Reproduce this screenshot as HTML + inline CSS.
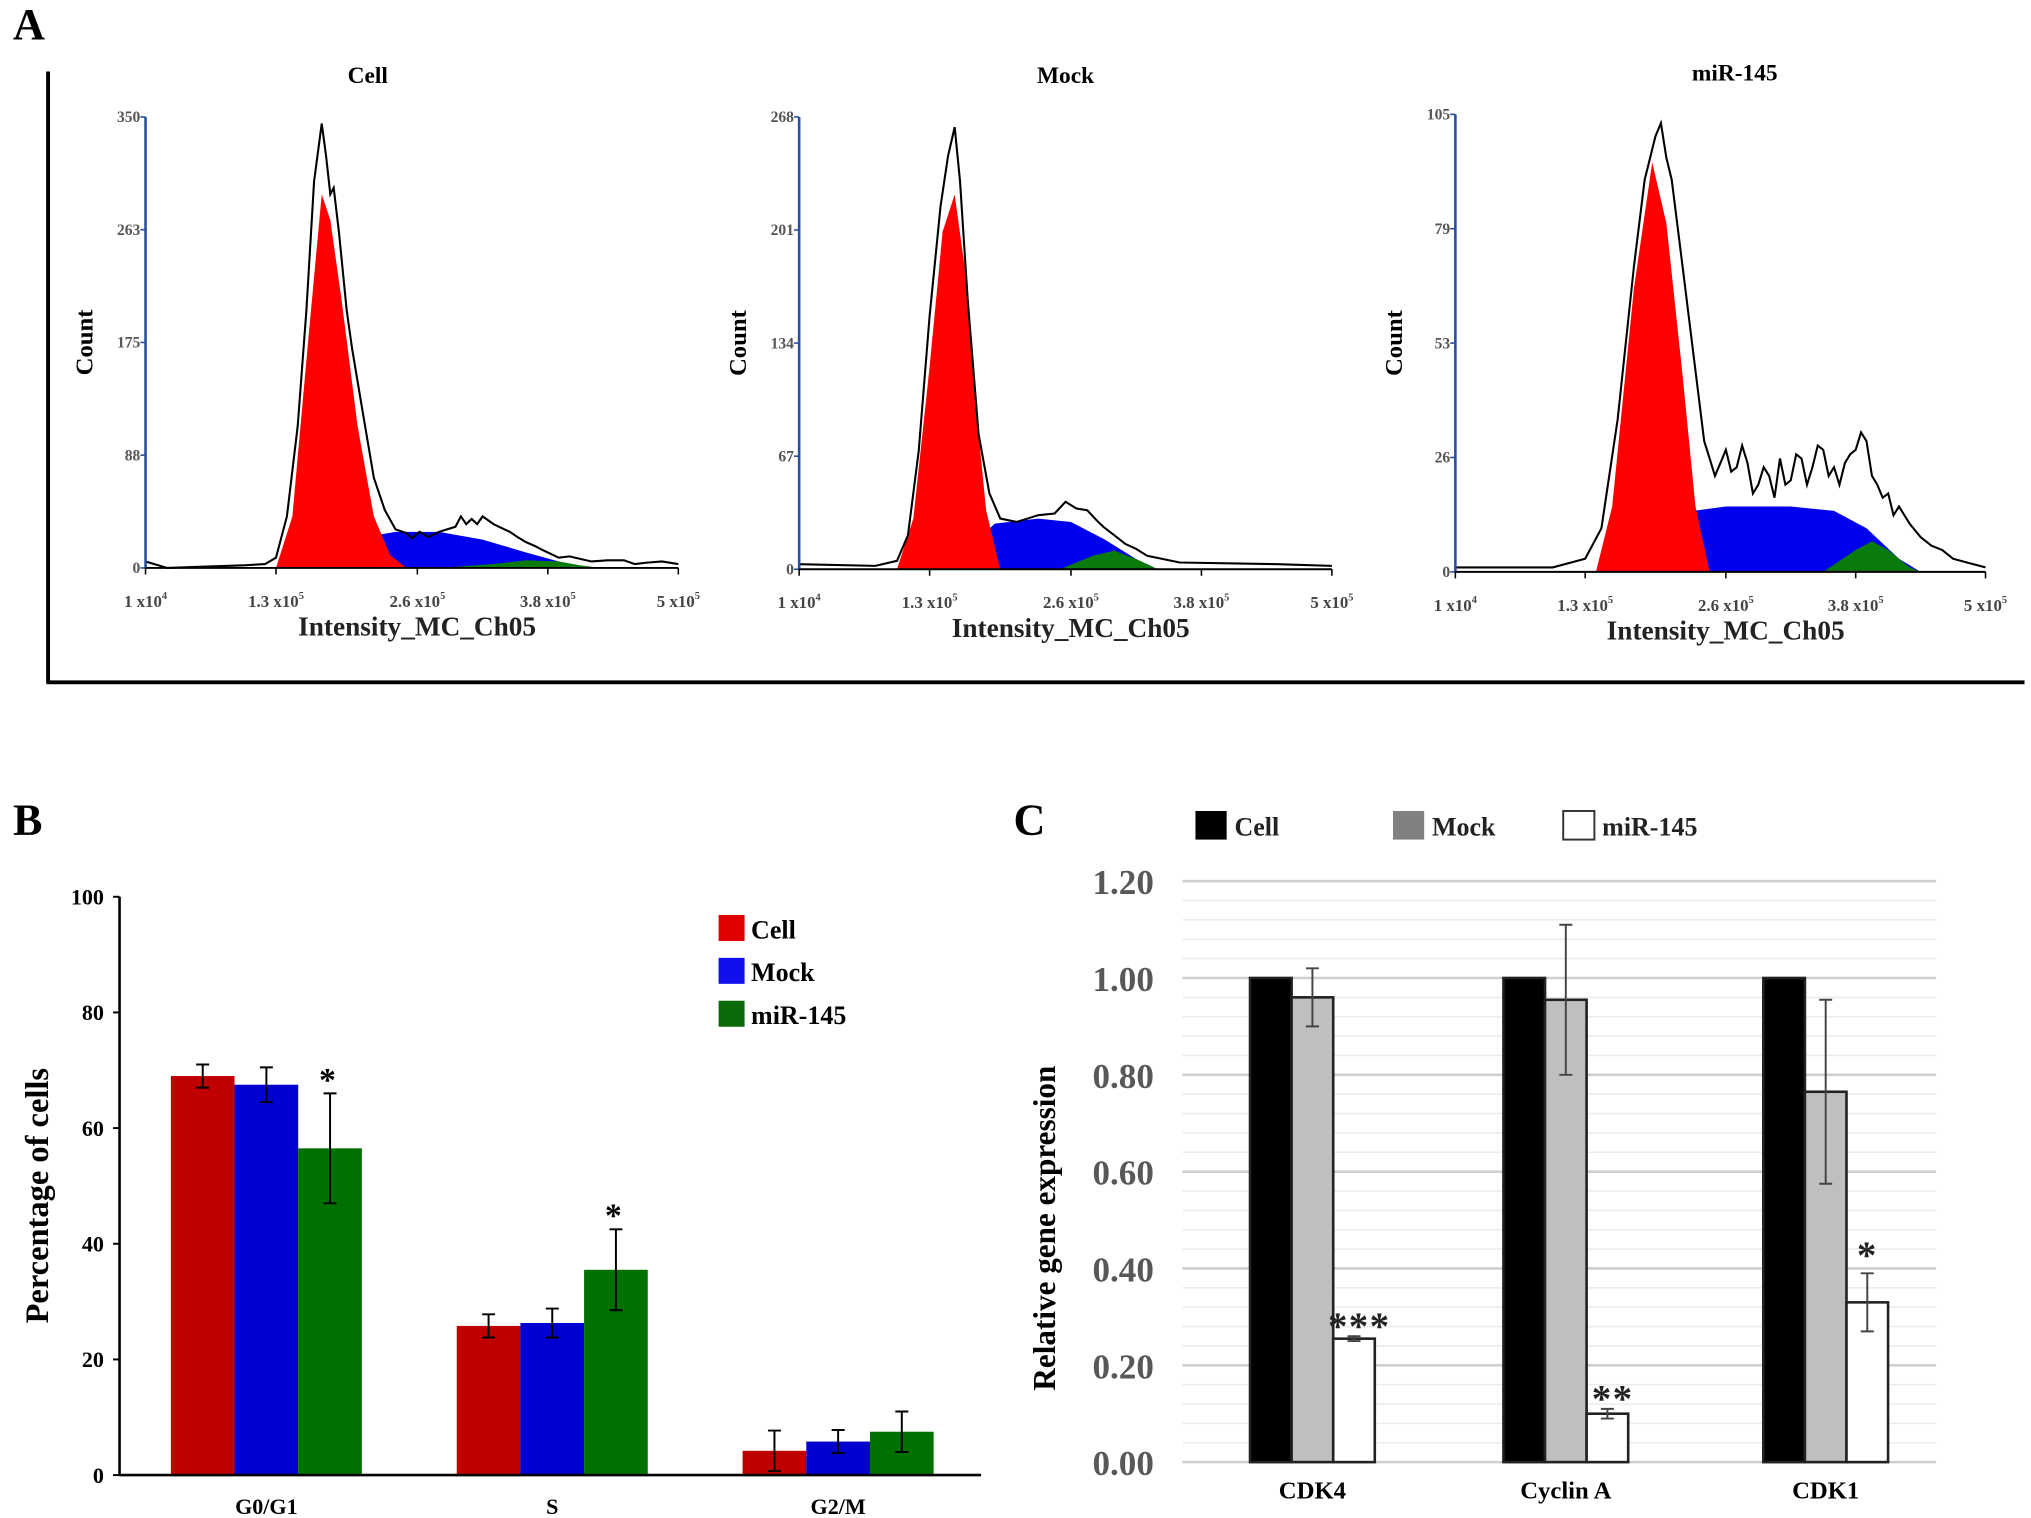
<!DOCTYPE html>
<html><head><meta charset="utf-8"><style>
html,body{margin:0;padding:0;background:#fff;}
svg{display:block;}
text{font-family:"Liberation Serif",serif;font-weight:bold;}
</style></head><body>
<svg id="fig" width="2031" height="1518" viewBox="0 0 1563 1168" preserveAspectRatio="none" xmlns="http://www.w3.org/2000/svg">
<rect width="1563" height="1168" fill="#fff"/>
<text x="10" y="30" font-size="34">A</text>
<line x1="37" y1="55" x2="37" y2="526" stroke="#000" stroke-width="3"/>
<line x1="36" y1="525" x2="1558" y2="525" stroke="#000" stroke-width="3"/>
<g id="hists"></g>
<text x="10" y="642" font-size="34">B</text>
<g id="chartB"></g>
<text x="780" y="642" font-size="34">C</text>
<g id="chartC"></g>
</svg>
<script>
// ---------- Panel A data (x in units of 1e5) ----------
const cellOutline=[[0.1,5],[0.3,0],[1.0,2],[1.2,3],[1.3,8],[1.4,40],[1.5,110],[1.58,200],[1.65,300],[1.72,345],[1.76,320],[1.8,290],[1.83,295],[1.88,260],[1.95,200],[2.0,170],[2.1,120],[2.2,70],[2.3,45],[2.4,30],[2.5,27],[2.55,23],[2.62,28],[2.7,24],[2.8,28],[2.95,32],[3.0,40],[3.05,34],[3.1,38],[3.15,34],[3.2,40],[3.3,34],[3.4,30],[3.45,28],[3.52,24],[3.6,20],[3.68,17],[3.75,14],[3.85,10],[3.9,8],[4.0,9],[4.2,5],[4.35,6],[4.5,6],[4.6,3],[4.7,4],[4.85,5],[5.0,3]];
const cellRed=[[1.3,0],[1.45,40],[1.6,180],[1.72,290],[1.8,270],[1.9,210],[2.05,110],[2.2,40],[2.35,10],[2.5,0]];
const cellBlue=[[1.6,0],[1.9,10],[2.2,25],[2.4,28],[2.8,28],[3.2,22],[3.6,12],[3.9,5],[4.2,0]];
const cellGreen=[[2.8,0],[3.3,3],[3.6,6],[3.9,5],[4.1,2],[4.3,0]];
const mockOutline=[[0.1,3],[0.8,2],[1.0,5],[1.1,20],[1.2,70],[1.3,150],[1.4,215],[1.47,245],[1.53,262],[1.58,230],[1.65,160],[1.75,80],[1.85,45],[1.95,30],[2.1,28],[2.2,30],[2.3,32],[2.45,33],[2.55,40],[2.65,36],[2.75,35],[2.85,28],[2.9,25],[3.0,20],[3.1,15],[3.2,12],[3.3,8],[3.6,4],[4.5,3],[5.0,2]];
const mockRed=[[1.0,0],[1.15,30],[1.3,120],[1.42,200],[1.53,222],[1.62,180],[1.72,100],[1.82,35],[1.95,0]];
const mockBlue=[[1.45,0],[1.7,15],[1.9,27],[2.3,30],[2.6,28],[2.9,18],[3.2,6],[3.4,0]];
const mockGreen=[[2.5,0],[2.8,8],[3.0,11],[3.2,6],[3.4,0]];
const mirOutline=[[0.1,1],[1.0,1],[1.3,3],[1.45,10],[1.6,35],[1.75,70],[1.85,90],[1.95,100],[2.0,103],[2.05,95],[2.1,90],[2.2,70],[2.3,50],[2.4,30],[2.45,26],[2.5,22],[2.55,25],[2.6,28],[2.65,23],[2.7,24],[2.75,29],[2.8,25],[2.85,18],[2.9,20],[2.95,24],[3.0,22],[3.05,17],[3.1,26],[3.15,20],[3.2,21],[3.25,27],[3.3,26],[3.35,20],[3.4,24],[3.45,29],[3.5,28],[3.55,22],[3.6,24],[3.65,20],[3.7,25],[3.75,27],[3.8,28],[3.85,32],[3.9,30],[3.95,22],[4.0,20],[4.05,17],[4.1,18],[4.15,13],[4.2,15],[4.3,11],[4.4,8],[4.5,6],[4.6,5],[4.7,3],[4.85,2],[5.0,1]];
const mirRed=[[1.4,0],[1.55,15],[1.75,65],[1.92,94],[2.05,80],[2.2,45],[2.32,15],[2.45,0]];
const mirBlue=[[1.7,0],[2.0,7],[2.3,14],[2.6,15],[3.2,15],[3.6,14],[3.9,10],[4.2,3],[4.4,0]];
const mirGreen=[[3.5,0],[3.8,5],[3.95,7],[4.1,5],[4.3,1],[4.4,0]];
const histTitles=["Cell","Mock","miR-145"];
const histMax=[350,268,105];
const histTicks=[["0","88","175","263","350"],["0","67","134","201","268"],["0","26","53","79","105"]];
const xTickVals=[0.1,1.3,2.6,3.8,5.0];
const xTickLabels=[["1 x10","4"],["1.3 x10","5"],["2.6 x10","5"],["3.8 x10","5"],["5 x10","5"]];

const NS="http://www.w3.org/2000/svg";
function mk(tag,attrs,parent,txt){const e=document.createElementNS(NS,tag);for(const k in attrs)e.setAttribute(k,attrs[k]);if(txt!==undefined)e.textContent=txt;parent.appendChild(e);return e;}

const histSets=[[cellOutline,cellRed,cellBlue,cellGreen],[mockOutline,mockRed,mockBlue,mockGreen],[mirOutline,mirRed,mirBlue,mirGreen]];
const histBoxes=[{l:112,r:522,t:90,b:437,tx:283},{l:615,r:1025,t:90,b:438,tx:820},{l:1120,r:1528,t:88,b:440,tx:1335}];
const H=document.getElementById('hists');
histSets.forEach((set,i)=>{
  const bx=histBoxes[i];
  const g=mk('g',{},H);
  
  
  const xs=v=>bx.l+(v-0.1)/(4.9)*(bx.r-bx.l);
  const ys=v=>bx.b-v/histMax[i]*(bx.b-bx.t);
  const fillPath=(pts)=>'M'+pts.map(p=>xs(p[0]).toFixed(1)+','+ys(p[1]).toFixed(1)).join('L')+'Z';
  [[set[2],'#0000ee','blue-g2-fill'],[set[1],'#ff0000','red-g1-fill'],[set[3],'#0a7a0a','green-g2m-fill']].forEach(([pts,c,n])=>{
    const p=mk('path',{d:fillPath(pts),fill:c},g);
    
    
  });
  const op=mk('path',{d:'M'+set[0].map(p=>xs(p[0]).toFixed(1)+','+ys(p[1]).toFixed(1)).join('L'),fill:'none',stroke:'#000','stroke-width':1.6},g);
  
  
  mk('line',{x1:bx.l,y1:bx.t,x2:bx.l,y2:bx.b,stroke:'#2a4fa0','stroke-width':2},g);
  mk('line',{x1:bx.l,y1:bx.b,x2:bx.r,y2:bx.b,stroke:'#000','stroke-width':1.5},g);
  histTicks[i].forEach((t,k)=>{
    const y=bx.b-k/4*(bx.b-bx.t);
    mk('line',{x1:bx.l-4,y1:y,x2:bx.l,y2:y,stroke:'#2a4fa0','stroke-width':1.2},g);
    const tx=mk('text',{x:bx.l-4,y:y+4,'font-size':12,'text-anchor':'end',fill:'#555','font-weight':'normal'},g,t);
    
    
  });
  xTickVals.forEach((v,k)=>{
    const x=xs(v);
    mk('line',{x1:x,y1:bx.b,x2:x,y2:bx.b+5,stroke:'#000','stroke-width':1.2},g);
    const tx=mk('text',{x:x,y:bx.b+30,'font-size':13,'text-anchor':'middle',fill:'#444','font-weight':'normal'},g);
    
    
    mk('tspan',{},tx,xTickLabels[k][0]);
    mk('tspan',{dy:-6,'font-size':8},tx,xTickLabels[k][1]);
  });
  const title=mk('text',{x:bx.tx,y:bx.t-26,'font-size':18,'text-anchor':'middle'},g,histTitles[i]);
  
  
  const xl=mk('text',{x:(bx.l+bx.r)/2+4,y:bx.b+52,'font-size':21,'text-anchor':'middle',fill:'#222'},g,'Intensity_MC_Ch05');
  
  
  const yl=mk('text',{x:0,y:0,'font-size':19,'text-anchor':'middle',transform:`translate(${bx.l-41},${(bx.t+bx.b)/2}) rotate(-90)`},g,'Count');
  
  
});

// ---------- Panel B ----------
const bCategories=["G0/G1","S","G2/M"];
const bSeries=["Cell","Mock","miR-145"];
const bCell=[69,25.8,4.2];
const bMock=[67.5,26.3,5.8];
const bMir=[56.5,35.5,7.5];
const bCellErr=[2,2,3.5];
const bMockErr=[3,2.5,2];
const bMirErr=[9.5,7,3.5];
const bStarMir=["*","*",""];
const bTicks=[0,20,40,60,80,100];
(function(){
  const G=document.getElementById('chartB');
  const L=92,R=755,B0=1135,T=690;
  const ys=v=>B0-v/100*(B0-T);
  const centers=[205,425,645], bw=49;
  const cols=['#c00000','#0000d0','#007000'];
  const vals=[bCell,bMock,bMir], errs=[bCellErr,bMockErr,bMirErr];
  bTicks.forEach(t=>{
    mk('line',{x1:L-5,y1:ys(t),x2:L,y2:ys(t),stroke:'#000','stroke-width':1.5},G);
    const tx=mk('text',{x:L-12,y:ys(t)+6,'font-size':17,'text-anchor':'end'},G,String(t));
    
    
  });
  bCategories.forEach((c,i)=>{
    vals.forEach((arr,s)=>{
      const x=centers[i]-1.5*bw+s*bw;
      const r=mk('rect',{x:x,y:ys(arr[i]),width:bw,height:B0-ys(arr[i]),fill:cols[s]},G);
      
      
      const cx=x+bw/2, e=errs[s][i];
      mk('path',{d:`M${cx},${ys(arr[i]+e)}V${ys(arr[i]-e)}M${cx-5},${ys(arr[i]+e)}H${cx+5}M${cx-5},${ys(arr[i]-e)}H${cx+5}`,stroke:'#000','stroke-width':1.5,fill:'none'},G);
      if(s===2&&bStarMir[i]){
        const st=mk('text',{x:cx-2,y:ys(arr[i]+e)-2,'font-size':26,'text-anchor':'middle'},G,'*');
        
        
      }
    });
    const tx=mk('text',{x:centers[i],y:B0+30,'font-size':17,'text-anchor':'middle'},G,c);
    
    
  });
  mk('line',{x1:L,y1:T,x2:L,y2:B0,stroke:'#000','stroke-width':2},G);
  mk('line',{x1:L,y1:B0,x2:R,y2:B0,stroke:'#000','stroke-width':2},G);
  const yt=mk('text',{x:0,y:0,'font-size':25,'text-anchor':'middle',transform:'translate(37,920) rotate(-90)'},G,'Percentage of cells');
  
  
  const lcols=['#e00000','#1010ee','#0a6a0a'];
  bSeries.forEach((s,k)=>{
    const y=704+k*33;
    const sq=mk('rect',{x:553,y:y,width:20,height:20,fill:lcols[k]},G);
    
    
    const t=mk('text',{x:578,y:y+18,'font-size':20},G,s);
    
    
  });
})();

// ---------- Panel C ----------
const cCategories=["CDK4","Cyclin A","CDK1"];
const cSeries=["Cell","Mock","miR-145"];
const cCell=[1.0,1.0,1.0];
const cMock=[0.96,0.955,0.765];
const cMir=[0.255,0.10,0.33];
const cCellErr=[0,0,0];
const cMockErr=[0.06,0.155,0.19];
const cMirErr=[0.005,0.01,0.06];
const cStars=["***","**","*"];
const cTicks=["0.00","0.20","0.40","0.60","0.80","1.00","1.20"];
(function(){
  const G=document.getElementById('chartC');
  const L=910,R=1490,B0=1125,T=678;
  const ys=v=>B0-v/1.2*(B0-T);
  for(let k=0;k<=30;k++){
    const v=k*0.04, major=(k%5===0);
    mk('line',{x1:L,y1:ys(v),x2:R,y2:ys(v),stroke:major?'#cfcfcf':'#ececec','stroke-width':major?2:1.2},G);
  }
  cTicks.forEach((t,k)=>{
    const tx=mk('text',{x:888,y:ys(k*0.2)+10,'font-size':27,'text-anchor':'end',fill:'#585858'},G,t);
    
    
  });
  const centers=[1010,1205,1405], bw=32;
  const fills=['#000','#bfbfbf','#fff'];
  const vals=[cCell,cMock,cMir], errs=[cCellErr,cMockErr,cMirErr];
  cCategories.forEach((c,i)=>{
    vals.forEach((arr,s)=>{
      const x=centers[i]-1.5*bw+s*bw;
      const r=mk('rect',{x:x,y:ys(arr[i]),width:bw,height:B0-ys(arr[i]),fill:fills[s],stroke:'#222','stroke-width':2},G);
      
      
      const cx=x+bw/2, e=errs[s][i];
      if(e>0) mk('path',{d:`M${cx},${ys(arr[i]+e)}V${ys(arr[i]-e)}M${cx-5},${ys(arr[i]+e)}H${cx+5}M${cx-5},${ys(arr[i]-e)}H${cx+5}`,stroke:'#444','stroke-width':1.5,fill:'none'},G);
      if(s===2){
        const st=mk('text',{x:cx+(cStars[i].length>1?4:0),y:ys(arr[i]+e)+(e>0.02?-4:2),'font-size':30,'text-anchor':'middle','font-weight':'normal',fill:'#222','letter-spacing':'1'},G,cStars[i]);
        
        
      }
    });
    const tx=mk('text',{x:centers[i],y:B0+28,'font-size':19,'text-anchor':'middle'},G,c);
    
    
  });
  const yt=mk('text',{x:0,y:0,'font-size':24,'text-anchor':'middle',transform:'translate(812,945) rotate(-90)'},G,'Relative gene expression');
  
  
  const lx=[920,1072,1203], lc=['#000','#808080','#fff'];
  cSeries.forEach((s,k)=>{
    const sq=mk('rect',{x:lx[k],y:624,width:24,height:22,fill:lc[k],stroke:k===2?'#333':'none','stroke-width':1.5},G);
    
    
    const t=mk('text',{x:lx[k]+30,y:643,'font-size':20,fill:'#222'},G,s);
    
    
  });
})();
</script>
</body></html>
